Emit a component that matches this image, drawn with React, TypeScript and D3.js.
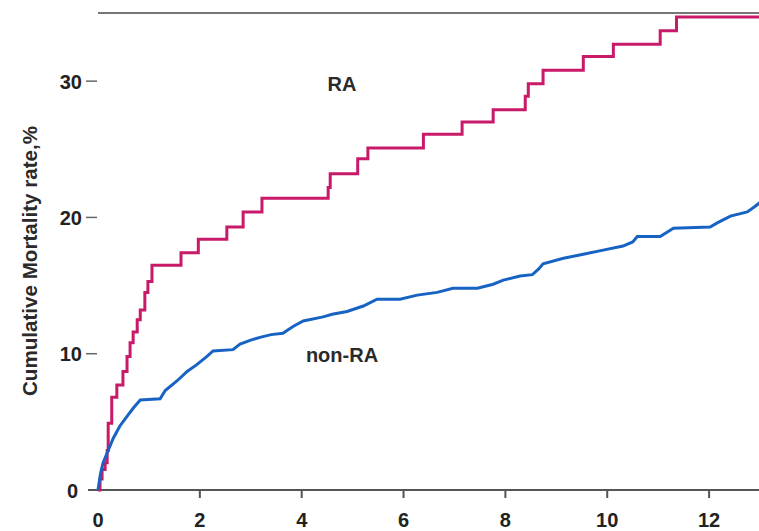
import React from "react";
import * as d3 from "d3";

// cumulative mortality (%) by years of follow-up
const raYears = [0, 0.04, 0.08, 0.14, 0.18, 0.2, 0.27, 0.37, 0.49, 0.57, 0.63, 0.69, 0.77, 0.83, 0.92, 0.98, 1.06, 1.63, 1.97, 2.53, 2.85, 3.22, 4.52, 4.56, 5.1, 5.3, 6.39, 7.15, 7.76, 8.39, 8.45, 8.74, 9.53, 10.12, 11.04, 11.36, 13];
const raRate = [0, 0.8, 1.5, 2.0, 2.9, 4.9, 6.8, 7.7, 8.7, 9.8, 10.8, 11.6, 12.5, 13.2, 14.5, 15.3, 16.5, 17.4, 18.4, 19.3, 20.4, 21.4, 22.2, 23.2, 24.3, 25.1, 26.1, 27.0, 27.9, 28.9, 29.8, 30.8, 31.8, 32.7, 33.7, 34.7, 34.7];

const nonRaYears = [0, 0.05, 0.1, 0.2, 0.3, 0.43, 0.57, 0.69, 0.83, 1.22, 1.32, 1.55, 1.75, 1.94, 2.14, 2.26, 2.65, 2.79, 3.0, 3.18, 3.4, 3.63, 3.83, 4.03, 4.42, 4.6, 4.89, 5.21, 5.48, 5.93, 6.27, 6.66, 6.97, 7.45, 7.76, 7.96, 8.29, 8.53, 8.65, 8.74, 9.14, 9.53, 9.92, 10.31, 10.5, 10.59, 11.04, 11.3, 12.02, 12.16, 12.42, 12.75, 12.9, 13];
const nonRaRate = [0, 1.2, 2.0, 2.9, 3.8, 4.7, 5.4, 6.0, 6.6, 6.7, 7.3, 8.0, 8.7, 9.2, 9.8, 10.2, 10.3, 10.7, 11.0, 11.2, 11.4, 11.5, 12.0, 12.4, 12.7, 12.9, 13.1, 13.5, 14.0, 14.0, 14.3, 14.5, 14.8, 14.8, 15.1, 15.4, 15.7, 15.8, 16.2, 16.6, 17.0, 17.3, 17.6, 17.9, 18.2, 18.6, 18.6, 19.2, 19.3, 19.6, 20.1, 20.4, 20.8, 21.1];

const xTicks = [0, 2, 4, 6, 8, 10, 12];
const yTicks = [0, 10, 20, 30];
const yTop = 35;

const W = 759;
const H = 531;
const RA_COLOR = "#c81a68";
const NON_RA_COLOR = "#1763c4";
const FONT = "'Liberation Sans', Arial, sans-serif";

export default function App() {
  const x = d3.scaleLinear().domain([0, 13]).range([98, 760]);
  const y = d3.scaleLinear().domain([0, yTop]).range([490, 13]);

  const stepLine = d3
    .line<[number, number]>()
    .x((d) => x(d[0]))
    .y((d) => y(d[1]))
    .curve(d3.curveStepAfter);

  // the non-RA steps are tiny, so a plain line reads closer
  const smoothLine = d3
    .line<[number, number]>()
    .x((d) => x(d[0]))
    .y((d) => y(d[1]));

  const raPath = stepLine(raYears.map((t, i) => [t, raRate[i]]));
  const nonRaPath = smoothLine(nonRaYears.map((t, i) => [t, nonRaRate[i]]));

  return (
    <svg
      width={W}
      height={H}
      style={{ position: "absolute", left: 0, top: 0, background: "#fff" }}
      fontFamily={FONT}
    >
      {/* top frame line */}
      <line x1={x(0)} x2={W} y1={y(yTop)} y2={y(yTop)} stroke="#777" strokeWidth={2} />

      {/* x axis */}
      <line x1={88} x2={W} y1={y(0)} y2={y(0)} stroke="#555" strokeWidth={2} />
      {xTicks.map((t) => (
        <g key={t} transform={`translate(${x(t)},${y(0)})`}>
          {t > 0 && <line y1={0} y2={8} stroke="#555" strokeWidth={2} />}
          <text y={37} textAnchor="middle" fontSize={20} fontWeight="bold" fill="#222">
            {t}
          </text>
        </g>
      ))}

      {/* y ticks */}
      {yTicks.map((v) => (
        <g key={v} transform={`translate(0,${y(v)})`}>
          {v > 0 && <line x1={86} x2={97} stroke="#666" strokeWidth={1.5} />}
          <text x={v > 0 ? 82 : 78} dy="0.38em" textAnchor="end" fontSize={20} fontWeight="bold" fill="#222">
            {v}
          </text>
        </g>
      ))}

      <text
        transform={`translate(37,261) rotate(-90)`}
        textAnchor="middle"
        fontSize={20}
        fontWeight="bold"
        fill="#2a2a2a"
        textLength={270}
        lengthAdjust="spacingAndGlyphs"
      >
        Cumulative Mortality rate,%
      </text>

      <path d={raPath ?? ""} fill="none" stroke={RA_COLOR} strokeWidth={3} />
      <path d={nonRaPath ?? ""} fill="none" stroke={NON_RA_COLOR} strokeWidth={3} />

      <text x={342} y={91} textAnchor="middle" fontSize={20} fontWeight="bold" fill="#2a2a2a">
        RA
      </text>
      <text x={342} y={362} textAnchor="middle" fontSize={20} fontWeight="bold" fill="#2a2a2a">
        non-RA
      </text>
    </svg>
  );
}
